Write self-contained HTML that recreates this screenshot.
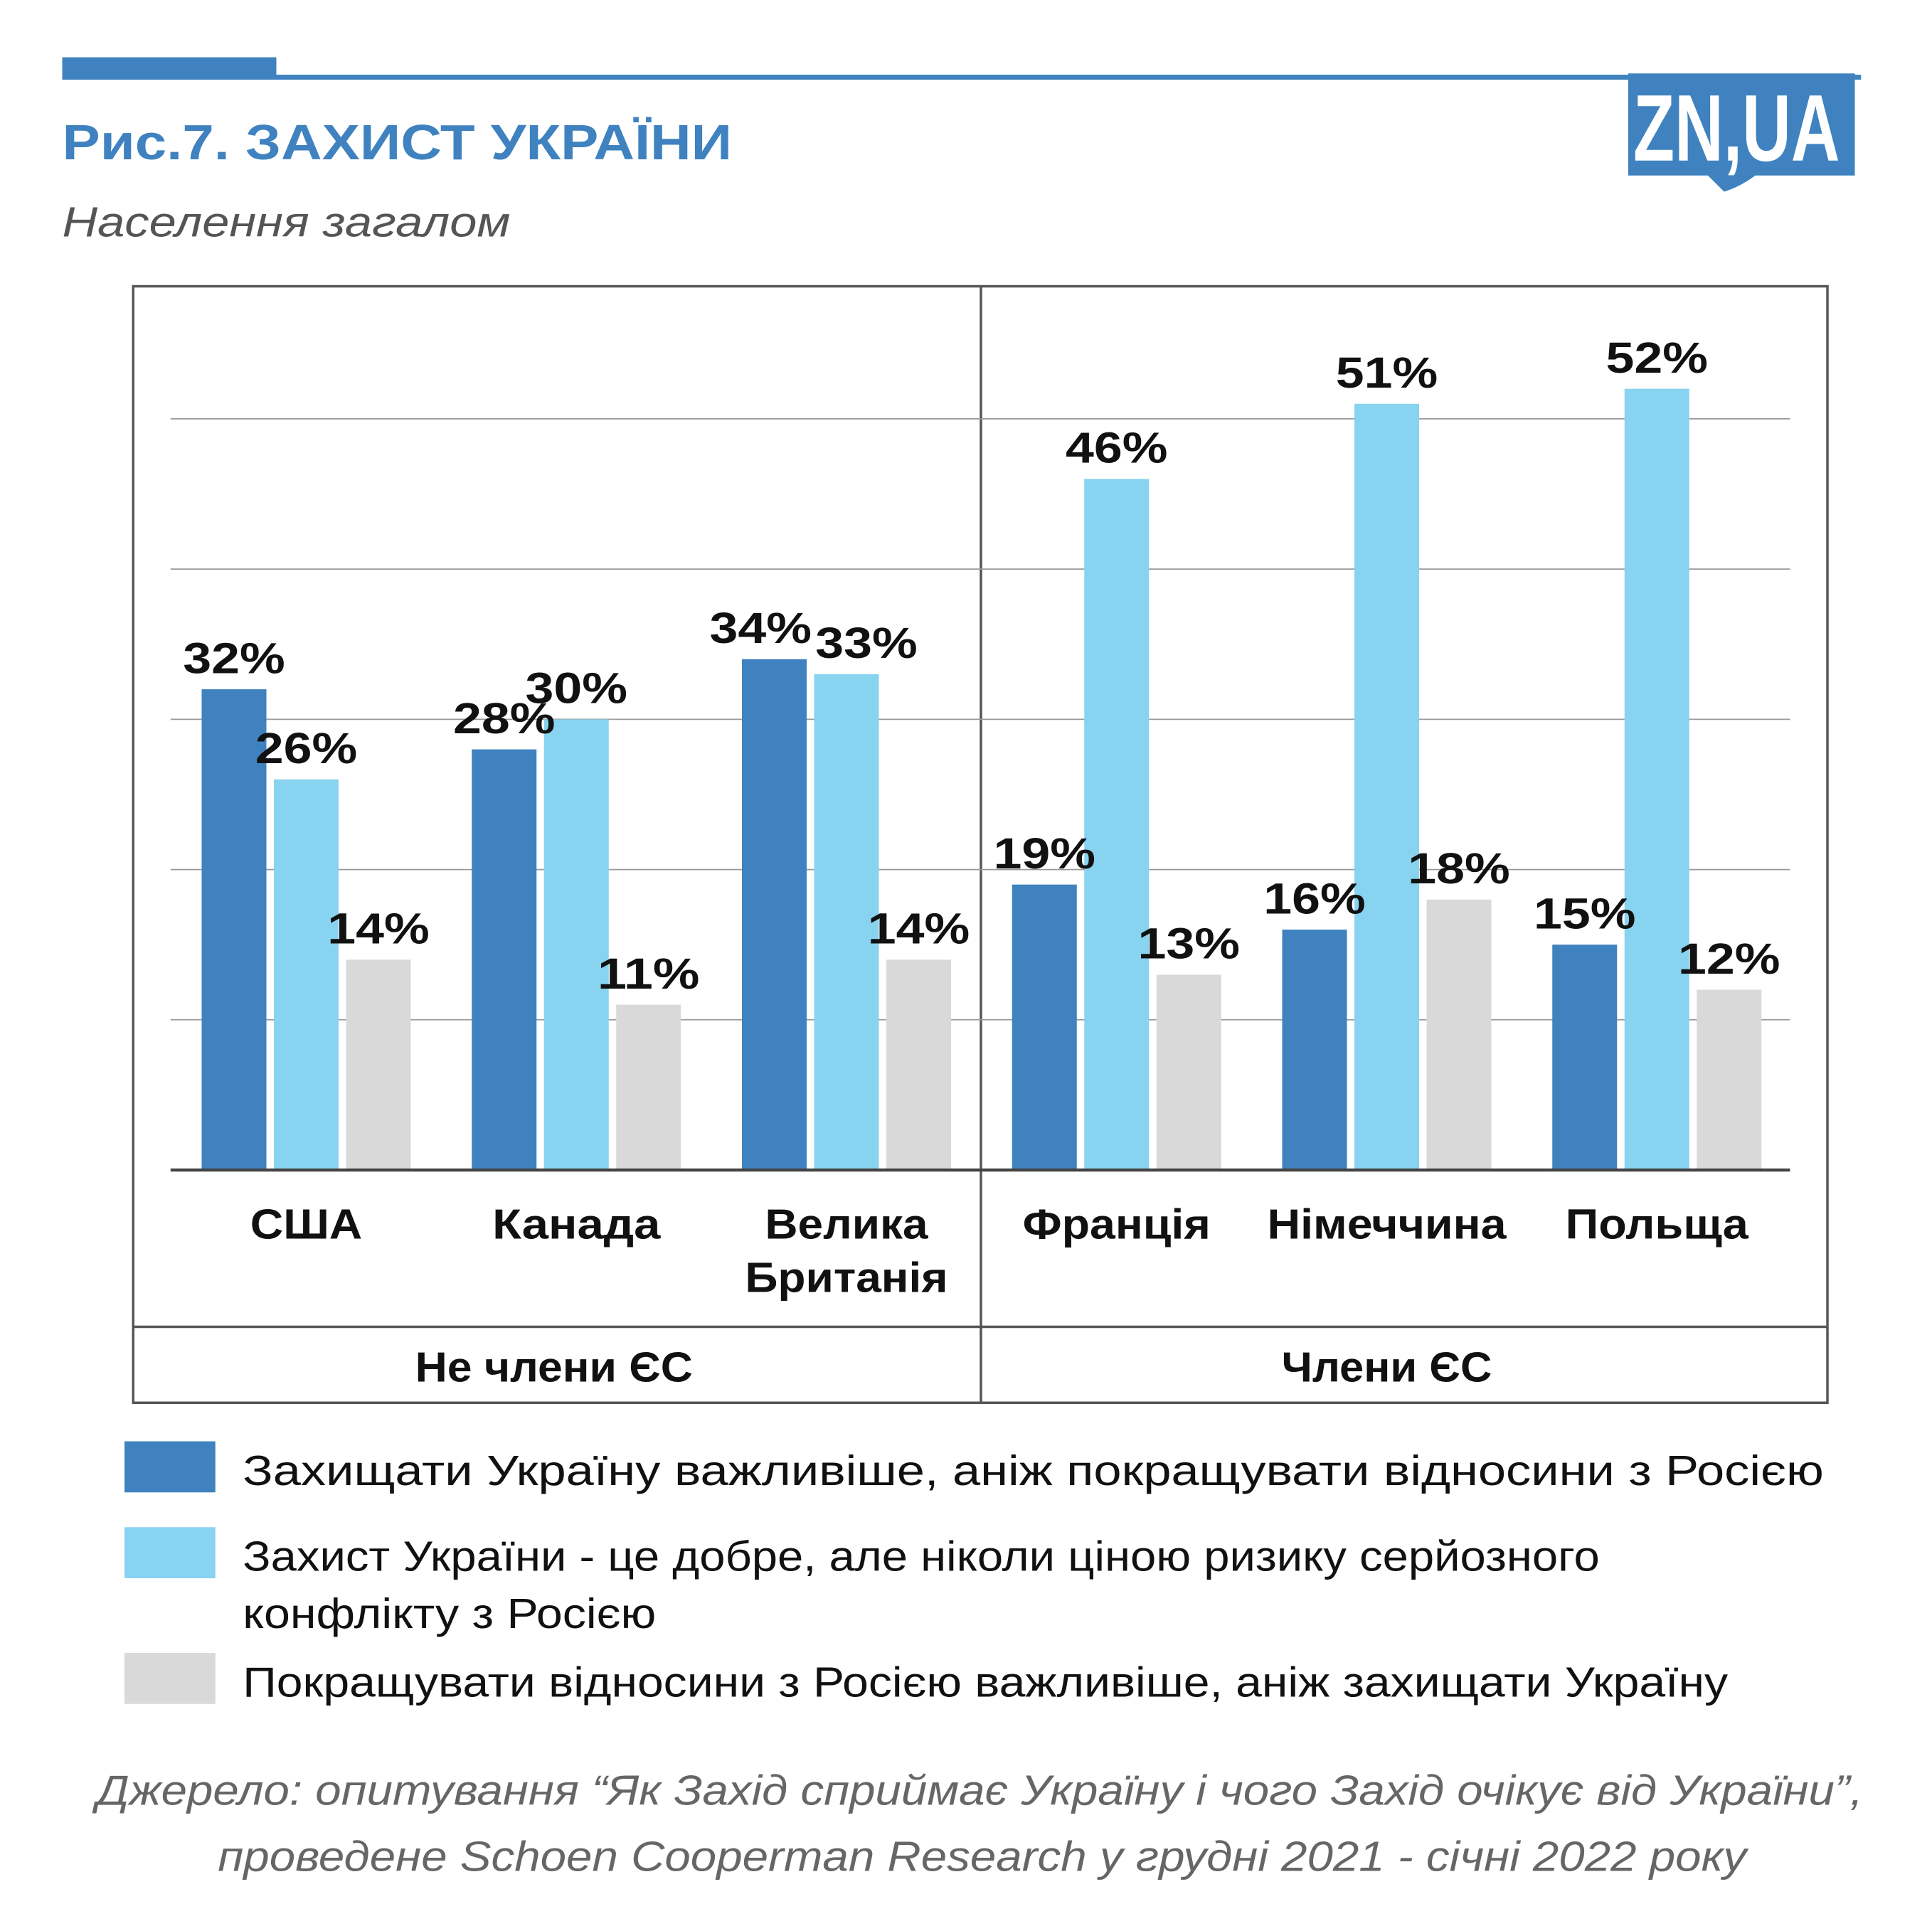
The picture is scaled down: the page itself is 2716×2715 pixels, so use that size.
<!DOCTYPE html>
<html><head><meta charset="utf-8">
<style>
html,body{margin:0;padding:0;background:#fff;}
svg{display:block;}
text{font-family:"Liberation Sans","DejaVu Sans",sans-serif;}
</style></head>
<body>
<svg id="chart" width="2716" height="2715" viewBox="0 0 1552 1551.4" xmlns="http://www.w3.org/2000/svg">
  <rect x="0" y="0" width="1552" height="1552" fill="#fff"/>
  <rect x="50" y="46" width="172" height="17" fill="#3f82bf"/>
  <rect x="50" y="60" width="1445" height="4" fill="#3f82bf"/>
  <text x="50" y="128" font-size="40" font-weight="bold" fill="#3f82bf" textLength="538" lengthAdjust="spacingAndGlyphs">Рис.7. ЗАХИСТ УКРАЇНИ</text>
  <text x="50" y="190" font-size="34" font-style="italic" fill="#555" textLength="360" lengthAdjust="spacingAndGlyphs">Населення загалом</text>
  <g>
    <path d="M1308 59 H1490 V141 H1410 Q1398 150 1385 154 L1372 141 H1308 Z" fill="#3f82bf"/>
    <text x="1312" y="129" font-size="76" font-weight="bold" fill="#fff" textLength="166" lengthAdjust="spacingAndGlyphs">ZN,UA</text>
  </g>
  <g fill="none" stroke="#555" stroke-width="2">
    <rect x="107" y="230" width="1361" height="897"/>
    <line x1="788" y1="230" x2="788" y2="1127"/>
    <line x1="107" y1="1066" x2="1468" y2="1066"/>
  </g>
  <g id="grid"></g>
  <g id="bars"></g>
  <g id="labels"></g>
  <line x1="137" y1="940" x2="1438" y2="940" stroke="#444" stroke-width="2.5"/>
  <text x="445" y="1110" font-size="34" font-weight="bold" text-anchor="middle" fill="#111" textLength="223" lengthAdjust="spacingAndGlyphs">Не члени ЄС</text>
  <text x="1114" y="1110" font-size="34" font-weight="bold" text-anchor="middle" fill="#111" textLength="169" lengthAdjust="spacingAndGlyphs">Члени ЄС</text>
  <g>
    <rect x="100" y="1158" width="73" height="41" fill="#3f82bf"/>
    <text x="195" y="1193" font-size="34" fill="#111" textLength="1270" lengthAdjust="spacingAndGlyphs">Захищати Україну важливіше, аніж покращувати відносини з Росією</text>
    <rect x="100" y="1227" width="73" height="41" fill="#88d3f0"/>
    <text x="195" y="1262" font-size="34" fill="#111" textLength="1090" lengthAdjust="spacingAndGlyphs">Захист України - це добре, але ніколи ціною ризику серйозного</text>
    <text x="195" y="1308" font-size="34" fill="#111" textLength="332" lengthAdjust="spacingAndGlyphs">конфлікту з Росією</text>
    <rect x="100" y="1328" width="73" height="41" fill="#d9d9d9"/>
    <text x="195" y="1363" font-size="34" fill="#111" textLength="1193" lengthAdjust="spacingAndGlyphs">Покращувати відносини з Росією важливіше, аніж захищати Україну</text>
  </g>
  <text x="787" y="1450" font-size="34" font-style="italic" fill="#666" text-anchor="middle" textLength="1419" lengthAdjust="spacingAndGlyphs">Джерело: опитування “Як Захід сприймає Україну і чого Захід очікує від України”,</text>
  <text x="789" y="1503" font-size="34" font-style="italic" fill="#666" text-anchor="middle" textLength="1228" lengthAdjust="spacingAndGlyphs">проведене Schoen Cooperman Research у грудні 2021 - січні 2022 року</text>
</svg>
<script>
const categories = [["США"],["Канада"],["Велика","Британія"],["Франція"],["Німеччина"],["Польща"]];
const defendValues = [32,28,34,19,16,15];
const goodButValues = [26,30,33,46,51,52];
const relationsValues = [14,11,14,13,18,12];
const gridTicks = [10,20,30,40,50];

const NS = "http://www.w3.org/2000/svg";
const baseY = 940, pxPerPct = 12.07;
const groupX0 = 162, groupStep = 217, barW = 52, barStep = 58;
const catWidths = [[90],[135],[131,163],[151],[192],[147]];
function yScale(v){ return baseY - v*pxPerPct; }
function xBar(g,s){ return groupX0 + g*groupStep + s*barStep; }

const grid = document.getElementById('grid');
gridTicks.forEach(t=>{
  const l = document.createElementNS(NS,'line');
  
  
  l.setAttribute('x1',137); l.setAttribute('x2',1438);
  l.setAttribute('y1',yScale(t)); l.setAttribute('y2',yScale(t));
  l.setAttribute('stroke','#999'); l.setAttribute('stroke-width','1');
  grid.appendChild(l);
});

const series = [
  {vals:defendValues, color:'#3f82bf', name:'defend'},
  {vals:goodButValues, color:'#88d3f0', name:'good-but'},
  {vals:relationsValues, color:'#d9d9d9', name:'relations'}
];
const bars = document.getElementById('bars');
const labels = document.getElementById('labels');
categories.forEach((cat,g)=>{
  series.forEach((s,si)=>{
    const v = s.vals[g];
    const r = document.createElementNS(NS,'rect');
    
    
    r.setAttribute('x',xBar(g,si)); r.setAttribute('width',barW);
    r.setAttribute('y',yScale(v)); r.setAttribute('height',baseY-yScale(v));
    r.setAttribute('fill',s.color);
    bars.appendChild(r);
    const t = document.createElementNS(NS,'text');
    
    
    let dx = 0;
    if (g===2 && si===0) dx = -11;
    if (g===2 && si===1) dx = 16;
    t.setAttribute('x',xBar(g,si)+barW/2+dx);
    t.setAttribute('y',yScale(v)-13);
    t.setAttribute('text-anchor','middle');
    t.setAttribute('font-size','35'); t.setAttribute('font-weight','bold');
    t.setAttribute('fill','#111');
    t.setAttribute('textLength','82');
    t.setAttribute('lengthAdjust','spacingAndGlyphs');
    t.textContent = v+'%';
    labels.appendChild(t);
  });
  cat.forEach((line,li)=>{
    const t = document.createElementNS(NS,'text');
    
    
    t.setAttribute('x',xBar(g,1)+barW/2);
    t.setAttribute('y',995+li*43);
    t.setAttribute('text-anchor','middle');
    t.setAttribute('font-size','34'); t.setAttribute('font-weight','bold');
    t.setAttribute('fill','#111');
    t.setAttribute('textLength',catWidths[g][li]);
    t.setAttribute('lengthAdjust','spacingAndGlyphs');
    t.textContent = line;
    labels.appendChild(t);
  });
});
</script>
</body></html>
